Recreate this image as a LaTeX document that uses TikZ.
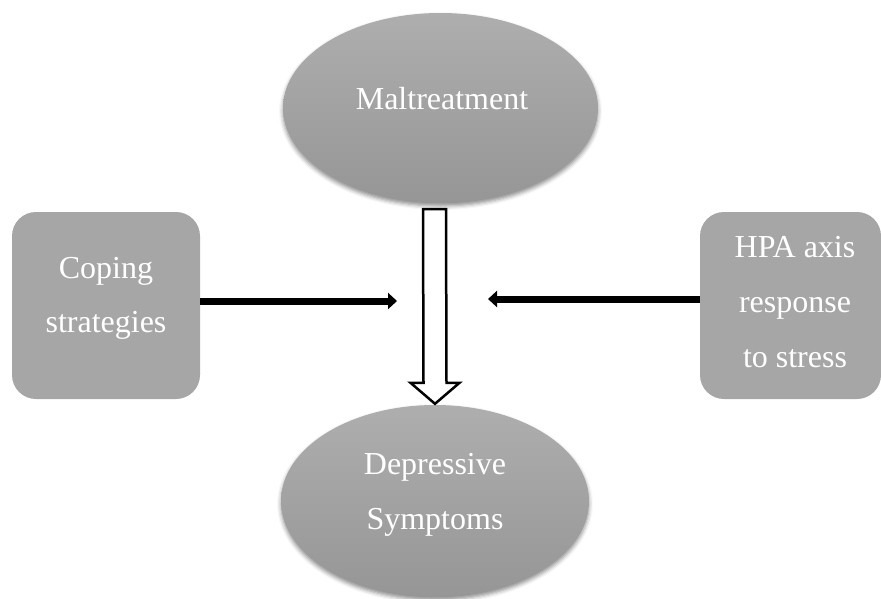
\documentclass[tikz,border=0pt]{standalone}
\usepackage{fontspec}
\setmainfont{Liberation Serif}
\usetikzlibrary{shapes.geometric,arrows.meta,shadows.blur,calc}
\definecolor{boxgray}{RGB}{166,166,166}
\definecolor{elltop}{RGB}{174,174,174}
\definecolor{ellbot}{RGB}{150,150,150}
\tikzset{
  ell/.style={ellipse,draw=none,top color=elltop,bottom color=ellbot,inner sep=0pt,
    blur shadow={shadow xshift=0pt,shadow yshift=-3pt,shadow blur radius=4pt,shadow opacity=45}},
  rbox/.style={rectangle,rounded corners=24pt,fill=boxgray,draw=none,inner sep=0pt,
    minimum width=188pt,minimum height=187pt},
  lbl/.style={text=white,align=center,font=\fontsize{32}{55}\selectfont,inner sep=0pt},
  solidarrow/.style={line width=7pt,-{Triangle[length=9pt,width=16pt]}},
  hollow/.style={draw=black,line width=2.5pt,fill=white,line join=miter},
}
\begin{document}
\begin{tikzpicture}[x=1pt,y=-1pt]
\useasboundingbox (0,0) rectangle (881,598);
% ellipses
\node[ell,minimum width=315pt,minimum height=190pt] (mal) at (440.5,108) {};
\node[lbl] (maltxt) at (442,99) {Maltreatment};
\node[ell,minimum width=308pt,minimum height=192pt] (dep) at (435,501) {};
\node[lbl] (deptxt) at (435,495) {Depressive\\Symptoms};
% boxes
\node[rbox] (cope) at (106,305.5) {};
\node[lbl,font=\fontsize{32}{54}\selectfont] (copetxt) at (106,298.5) {Coping\\strategies};
\node[rbox,minimum width=181pt] (hpa) at (790.5,305.5) {};
\node[lbl] (hpatxt) at (795,302) {HPA axis\\response\\to stress};
% hollow arrow
\coordinate (ha) at (434.5,209);
\coordinate (tip) at ($(dep.north)+(0,-1)$);
\draw[hollow] ($(ha)+(-11.5,0)$) -- ($(ha)+(11.5,0)$) -- ($(tip)+(11.5,-21)$) -- ($(tip)+(24.5,-21)$)
  -- (tip) -- ($(tip)+(-24.5,-21)$) -- ($(tip)+(-11.5,-21)$) -- cycle;
% solid arrows
\coordinate (lend) at (397,301);
\coordinate (rend) at (488,299);
\draw[solidarrow] (cope.east |- lend) -- (lend);
\draw[solidarrow] (hpa.west |- rend) -- (rend);
\end{tikzpicture}
\end{document}
